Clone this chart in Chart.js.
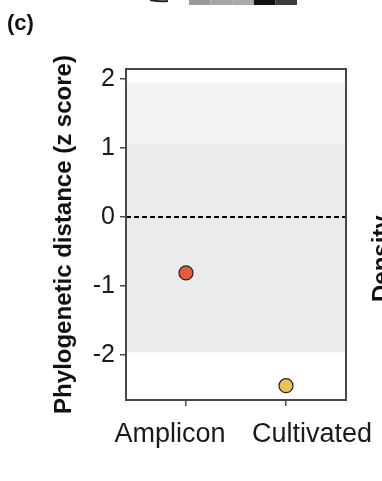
<!DOCTYPE html>
<html>
<head>
<meta charset="utf-8">
<script src="https://cdn.jsdelivr.net/npm/chart.js@4/dist/chart.umd.min.js"></script>
<style>
  html, body { margin: 0; padding: 0; background: #fff; }
  #wrap { width: 382px; height: 481px; position: relative; }
</style>
</head>
<body>
<div id="wrap"><canvas id="chart"></canvas></div>
<script>
// dati
const categories = ['Amplicon', 'Cultivated'];
const zScores = [-0.81, -2.445];
const yTicks = [-2, -1, 0, 1, 2];
const yMin = -2.652;
const yMax = 2.145;
const bandTop = [1.94, 1.06];
const bandBottom = [1.06, -1.96];
const refLine = 0;
// posizione (in unita di categoria) delle etichette sull'asse x
const labelPos = [-0.16, 1.26];

const pointColors = ['#e25b3b', '#e9c44c'];
const bandColors = ['#f3f3f3', '#ebebeb'];

// sfondo a fasce, linea tratteggiata e cornice
const panelPlugin = {
    id: 'panel',
    beforeDatasetsDraw(chart) {
        const { ctx, chartArea: a, scales: { y } } = chart;
        ctx.save();
        bandTop.forEach((t, i) => {
            const y1 = y.getPixelForValue(t);
            const y2 = y.getPixelForValue(bandBottom[i]);
            ctx.fillStyle = bandColors[i];
            ctx.fillRect(a.left, y1, a.right - a.left, y2 - y1);
        });
        const y0 = y.getPixelForValue(refLine);
        ctx.strokeStyle = '#000';
        ctx.lineWidth = 1.8;
        ctx.setLineDash([5, 3]);
        ctx.beginPath();
        ctx.moveTo(a.left, y0);
        ctx.lineTo(a.right, y0);
        ctx.stroke();
        ctx.setLineDash([]);
        ctx.strokeStyle = '#474747';
        ctx.lineWidth = 2;
        ctx.strokeRect(a.left, a.top, a.right - a.left, a.bottom - a.top);
        ctx.restore();
    },
    afterDraw(chart) {
        const { ctx } = chart;
        ctx.save();
        // etichetta del pannello
        ctx.fillStyle = '#111';
        ctx.font = 'bold 22px "Liberation Sans", Arial, sans-serif';
        ctx.textBaseline = 'alphabetic';
        ctx.fillText('(c)', 7, 30);
        // resto del pannello accanto
        ctx.translate(389, 302);
        ctx.rotate(-Math.PI / 2);
        ctx.font = 'bold 24px "Liberation Sans", Arial, sans-serif';
        ctx.fillText('Density', 0, 0);
        ctx.restore();
        // frammento della figura sopra
        ctx.save();
        const cells = ['#9a9a9a', '#a6a6a6', '#aaaaaa', '#111111', '#3c3c3c'];
        cells.forEach((c, i) => {
            ctx.fillStyle = c;
            ctx.fillRect(189 + i * 21.6, 0, 21.6, 5);
        });
        ctx.strokeStyle = '#222';
        ctx.lineWidth = 2;
        ctx.beginPath();
        ctx.moveTo(150, 0);
        ctx.quadraticCurveTo(160, 2, 168, 1);
        ctx.stroke();
        ctx.restore();
    }
};

new Chart(document.getElementById('chart'), {
    type: 'scatter',
    data: {
        datasets: [{
            data: categories.map((c, i) => ({ x: i, y: zScores[i] })),
            backgroundColor: pointColors,
            borderColor: '#222',
            borderWidth: 1.2,
            pointRadius: 7,
            pointHoverRadius: 7
        }]
    },
    options: {
        responsive: true,
        maintainAspectRatio: false,
        animation: false,
        layout: { padding: { left: 30, top: 69, right: 36, bottom: 0 } },
        plugins: { legend: { display: false }, tooltip: { enabled: false } },
        scales: {
            x: {
                type: 'linear',
                position: 'bottom',
                min: -0.6,
                max: 1.6,
                afterBuildTicks: s => { s.ticks = categories.map((c, i) => ({ value: i })); },
                ticks: { display: false },
                grid: { drawOnChartArea: false, tickLength: 6, color: '#474747', lineWidth: 1.5 },
                border: { display: false },
                afterFit: s => { s.height = 7; }
            },
            x2: {
                type: 'linear',
                position: 'bottom',
                min: -0.6,
                max: 1.6,
                afterBuildTicks: s => { s.ticks = labelPos.map(v => ({ value: v })); },
                ticks: {
                    callback: (v, i) => categories[i],
                    autoSkip: false,
                    maxRotation: 0,
                    padding: 3,
                    color: '#1a1a1a',
                    font: { family: '"Liberation Sans", Arial, sans-serif', size: 27 }
                },
                grid: { display: false },
                border: { display: false },
                afterFit: s => { s.height = 74; }
            },
            y: {
                min: yMin,
                max: yMax,
                afterBuildTicks: s => { s.ticks = yTicks.map(v => ({ value: v })); },
                ticks: {
                    padding: 5,
                    color: '#1a1a1a',
                    font: { family: '"Liberation Sans", Arial, sans-serif', size: 25 }
                },
                grid: { drawOnChartArea: false, tickLength: 6, color: '#474747', lineWidth: 1.5 },
                border: { display: false },
                title: {
                    display: true,
                    text: 'Phylogenetic distance (z score)',
                    color: '#111',
                    padding: { top: 20, bottom: 0 },
                    font: { family: '"Liberation Sans", Arial, sans-serif', size: 24, weight: 'bold' }
                },
                afterFit: s => { s.width = 96; }
            }
        }
    },
    plugins: [panelPlugin]
});
</script>
</body>
</html>
